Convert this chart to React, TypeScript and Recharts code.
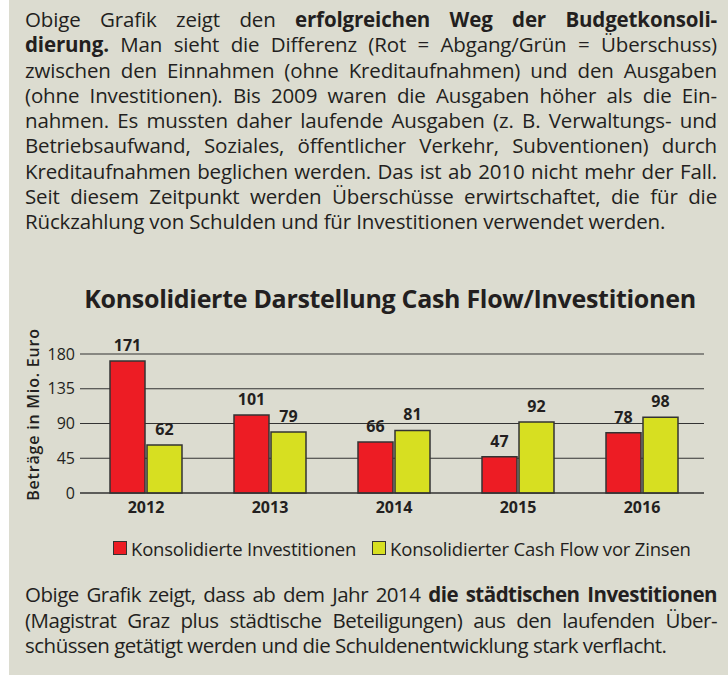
import { BarChart, Bar, XAxis, YAxis, CartesianGrid, Legend, LabelList } from "recharts";

const years = ["2012", "2013", "2014", "2015", "2016"];
const investitionen = [171, 101, 66, 47, 78];
const cashFlow = [62, 79, 81, 92, 98];
const yTicks = [0, 45, 90, 135, 180];
const seriesNames = ["Konsolidierte Investitionen", "Konsolidierter Cash Flow vor Zinsen"];
const seriesColors = ["#ed1c24", "#d7df21"];

const data = years.map((year, i) => ({
  year,
  inv: investitionen[i],
  cf: cashFlow[i],
}));

const FONT = "'Open Sans', Roboto, sans-serif";
const INK = "#231f20";
const BG = "#dcdcd0";

const lineStyle = (last: boolean, h: number) => ({
  height: h,
  lineHeight: h + "px",
  textAlign: "justify" as const,
  textAlignLast: (last ? "left" : "justify") as any,
});

const YLabel = ({ viewBox }: any) => {
  const cx = viewBox.x + 33;
  const cy = viewBox.y + viewBox.height / 2 - 9;
  return (
    <text
      x={cx}
      y={cy}
      transform={`rotate(-90, ${cx}, ${cy})`}
      textAnchor="middle"
      dominantBaseline="central"
      fill={INK}
      fontSize={16}
      fontWeight={600}
      letterSpacing={0.8}
      fontFamily={FONT}
    >
      Beträge in Mio. Euro
    </text>
  );
};

const LegendBox = () => (
  <div
    style={{
      height: 41,
      width: 728,
      display: "flex",
      alignItems: "center",
      paddingLeft: 113,
      paddingBottom: 3,
      boxSizing: "border-box",
      fontFamily: FONT,
      fontSize: 18.5,
      letterSpacing: -0.2,
      color: INK,
      whiteSpace: "nowrap",
    }}
  >
    {seriesNames.map((name, i) => (
      <div key={name} style={{ display: "flex", alignItems: "center", marginRight: 16, flexShrink: 0 }}>
        <span
          style={{
            width: 12,
            height: 12,
            background: seriesColors[i],
            border: "1.5px solid #333",
            marginRight: 4,
            display: "inline-block",
            flexShrink: 0,
          }}
        />
        <span>{name}</span>
      </div>
    ))}
  </div>
);

export default function App() {
  const top = [
    [<>Obige Grafik zeigt den <b>erfolgreichen Weg der Budgetkonsoli-</b></>],
    [<><b>dierung.</b> Man sieht die Differenz (Rot = Abgang/Grün = Überschuss)</>],
    ["zwischen den Einnahmen (ohne Kreditaufnahmen) und den Ausgaben"],
    ["(ohne Investitionen). Bis 2009 waren die Ausgaben höher als die Ein-"],
    ["nahmen. Es mussten daher laufende Ausgaben (z. B. Verwaltungs- und"],
    ["Betriebsaufwand, Soziales, öffentlicher Verkehr, Subventionen) durch"],
    ["Kreditaufnahmen beglichen werden. Das ist ab 2010 nicht mehr der Fall."],
    ["Seit diesem Zeitpunkt werden Überschüsse erwirtschaftet, die für die"],
    ["Rückzahlung von Schulden  und für Investitionen verwendet werden."],
  ];
  const bottom = [
    [<>Obige Grafik zeigt, dass ab dem Jahr 2014 <b>die städtischen Investitionen</b></>],
    ["(Magistrat Graz plus städtische Beteiligungen) aus den laufenden Über-"],
    ["schüssen getätigt werden und die Schuldenentwicklung stark verflacht."],
  ];

  return (
    <div style={{ position: "relative", width: 728, height: 677, background: "#fff", overflow: "hidden" }}>
      <style>{"body{margin:0}"}</style>
      <div style={{ position: "absolute", left: 9, top: 0, width: 719, height: 675, background: BG }} />

      <div style={{ position: "absolute", left: 25, top: 7, width: 692, fontFamily: FONT, fontSize: 20.5, letterSpacing: -0.15, color: INK }}>
        {top.map((l, i) => (
          <div key={i} style={lineStyle(i === top.length - 1, 25.3)}>
            {l}
          </div>
        ))}
      </div>

      <div
        style={{
          position: "absolute",
          left: 70,
          top: 283,
          width: 640,
          textAlign: "center",
          fontFamily: FONT,
          fontSize: 25,
          fontWeight: 700,
          letterSpacing: -0.3,
          lineHeight: "30px",
          color: INK,
        }}
      >
        Konsolidierte Darstellung Cash Flow/Investitionen
      </div>

      <div style={{ position: "absolute", left: 0, top: 320 }}>
        <BarChart
          width={728}
          height={250}
          data={data}
          margin={{ top: 34, right: 24, left: 0, bottom: 0 }}
          barSize={35}
          barGap={2}
        >
          <CartesianGrid vertical={false} stroke="#333" strokeWidth={1.2} />
          <XAxis
            dataKey="year"
            tickLine={false}
            tickSize={0}
            tickMargin={9}
            height={36}
            padding={{ left: 4, right: 0 }}
            axisLine={{ stroke: "#333", strokeWidth: 1.2 }}
            tick={{ fill: INK, fontSize: 16, fontWeight: 700, fontFamily: FONT }}
          />
          <YAxis
            width={80}
            domain={[0, 180]}
            ticks={yTicks}
            tickLine={false}
            axisLine={false}
            tickSize={0}
            tickMargin={5}
            tick={{ fill: INK, fontSize: 16, fontFamily: FONT }}
            label={<YLabel />}
          />
          <Legend verticalAlign="bottom" content={<LegendBox />} />
          <Bar dataKey="inv" name={seriesNames[0]} fill={seriesColors[0]} stroke="#333" strokeWidth={1.5} isAnimationActive={false}>
            <LabelList dataKey="inv" position="top" offset={10} fill={INK} fontSize={16} fontWeight={700} fontFamily={FONT} />
          </Bar>
          <Bar dataKey="cf" name={seriesNames[1]} fill={seriesColors[1]} stroke="#333" strokeWidth={1.5} isAnimationActive={false}>
            <LabelList dataKey="cf" position="top" offset={10} fill={INK} fontSize={16} fontWeight={700} fontFamily={FONT} />
          </Bar>
        </BarChart>
      </div>

      <div style={{ position: "absolute", left: 25, top: 582, width: 692, fontFamily: FONT, fontSize: 20.5, letterSpacing: -0.5, color: INK }}>
        {bottom.map((l, i) => (
          <div key={i} style={lineStyle(i === bottom.length - 1, 25.5)}>
            {l}
          </div>
        ))}
      </div>
    </div>
  );
}
